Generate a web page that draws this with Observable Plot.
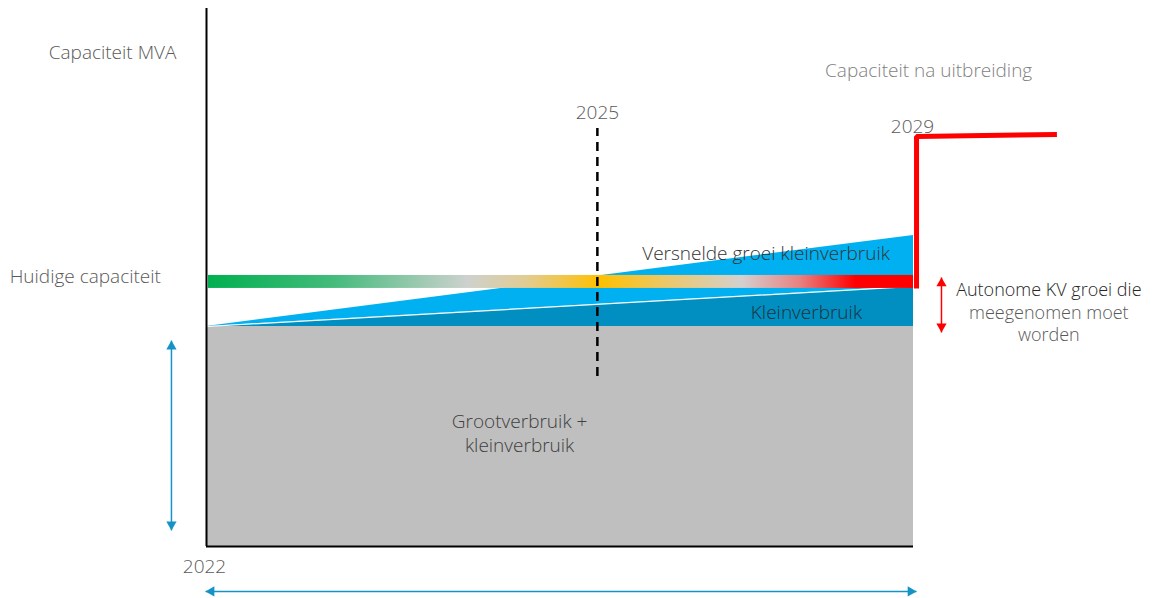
<!DOCTYPE html>
<html>
<head>
<meta charset="utf-8">
<script src="https://cdn.jsdelivr.net/npm/d3@7"></script>
<script src="https://cdn.jsdelivr.net/npm/@observablehq/plot@0.6"></script>
<style>
  html, body { margin: 0; padding: 0; background: #fff; }
  #chart svg { display: block; }
</style>
</head>
<body>
<div id="chart"></div>
<script>
// ---- data (schematic units: x = year, y = capacity MVA) ----
const years = [2022, 2029];
const baseLoad = [100, 100];          // Grootverbruik + kleinverbruik
const kleinTop = [100, 118.2];        // Kleinverbruik (autonome groei)
const versneldTop = [100, 141.4];     // Versnelde groei kleinverbruik
const currentCapacity = {x1: 2022.02, x2: 2029.0, y1: 117.3, y2: 123.2};
const expandedCapacity = [
  {x: 2029.03, y: 117.3},
  {x: 2029.03, y: 186.4},
  {x: 2030.42, y: 187.3}
];
const marker2025 = {x: 2025.87, y1: 77.3, y2: 190};
const axisTop = 244.5;

const labels = [
  {text: "Capaciteit MVA", x: 2021.07, y: 224.5, c: "#595959", s: 19},
  {text: "Huidige capaciteit", x: 2020.80, y: 122.7, c: "#595959", s: 19},
  {text: "2025", x: 2025.87, y: 197.3, c: "#595959", s: 19},
  {text: "2029", x: 2028.99, y: 190.9, c: "#595959", s: 19},
  {text: "Capaciteit na uitbreiding", x: 2029.15, y: 216.4, c: "#7f7f7f", s: 19},
  {text: "Versnelde groei kleinverbruik", x: 2027.54, y: 133.2, c: "#333333", s: 19},
  {text: "Kleinverbruik", x: 2027.94, y: 106.4, c: "#1f2f3a", s: 19},
  {text: "Grootverbruik +", x: 2025.10, y: 56.8, c: "#404040", s: 19},
  {text: "kleinverbruik", x: 2025.10, y: 45.5, c: "#404040", s: 19},
  {text: "2022", x: 2021.98, y: -9.1, c: "#595959", s: 19},
  {text: "Autonome KV groei die", x: 2030.34, y: 116.4, c: "#262626", s: 18},
  {text: "meegenomen moet", x: 2030.34, y: 105.9, c: "#595959", s: 18},
  {text: "worden", x: 2030.34, y: 95.9, c: "#595959", s: 18}
];

const arrows = [
  {x1: 2021.653, y1: 93.6, x2: 2021.653, y2: 7.3, c: "#1592c6"},
  {x1: 2021.99, y1: -20.45, x2: 2029.03, y2: -20.45, c: "#1592c6"},
  {x1: 2029.277, y1: 122.3, x2: 2029.277, y2: 97.3, c: "#ff0000"}
];

// ---- scales setup ----
const W = 1163, H = 598;
const xDomain = [2019.9604, 2031.4752];
const yDomain = [-23.636, 248.18];
const pxX = (xDomain[1] - xDomain[0]) / W;   // data units per pixel
const pxY = (yDomain[1] - yDomain[0]) / H;

// ---- derived tables ----
const areaData = years.map((x, i) => ({x, base: baseLoad[i], klein: kleinTop[i], versneld: versneldTop[i]}));
const headR = 3.8;
const tipOffset = 2 * Math.sqrt(Math.PI * headR * headR / (3 * Math.sqrt(3)));
const heads = arrows.flatMap(a => {
  const vertical = a.x1 === a.x2;
  if (vertical) {
    const s = Math.sign(a.y1 - a.y2); // +1 if y1 is top
    return [
      {x: a.x1, y: a.y1 - s * tipOffset * pxY, rot: s > 0 ? 0 : 180, c: a.c},
      {x: a.x2, y: a.y2 + s * tipOffset * pxY, rot: s > 0 ? 180 : 0, c: a.c}
    ];
  }
  return [
    {x: a.x1 + tipOffset * pxX, y: a.y1, rot: -90, c: a.c},
    {x: a.x2 - tipOffset * pxX, y: a.y2, rot: 90, c: a.c}
  ];
});

const plot = Plot.plot({
  width: W,
  height: H,
  margin: 0,
  x: {domain: xDomain, axis: null},
  y: {domain: yDomain, axis: null},
  style: {fontFamily: "'Open Sans', sans-serif", fontWeight: 300, background: "#fff"},
  marks: [
    Plot.areaY(areaData, {x: "x", y1: 0, y2: "base", fill: "#bfbfbf"}),
    Plot.areaY(areaData, {x: "x", y1: "klein", y2: "versneld", fill: "#00b0f0"}),
    Plot.areaY(areaData, {x: "x", y1: "base", y2: "klein", fill: "#008fc0"}),
    Plot.line(areaData, {x: "x", y: "klein", stroke: "#fff", strokeWidth: 1.2}),
    Plot.rect([currentCapacity], {x1: "x1", x2: "x2", y1: "y1", y2: "y2", fill: "url(#capGrad)"}),
    Plot.line(expandedCapacity, {x: "x", y: "y", stroke: "#ff0000", strokeWidth: 5, strokeLinejoin: "miter", strokeLinecap: "butt"}),
    Plot.ruleX([marker2025], {x: "x", y1: "y1", y2: "y2", stroke: "#000", strokeWidth: 2.5, strokeDasharray: "9,6"}),
    Plot.ruleX([2022], {y1: 0, y2: axisTop, stroke: "#000", strokeWidth: 2}),
    Plot.ruleY([0], {x1: 2022, x2: 2029, stroke: "#000", strokeWidth: 2}),
    Plot.link(arrows, {x1: "x1", y1: "y1", x2: "x2", y2: "y2", stroke: "c", strokeWidth: 1.5}),
    Plot.dot(heads, {x: "x", y: "y", symbol: "triangle", r: headR, fill: "c", stroke: null, rotate: "rot"}),
    Plot.text(labels, {x: "x", y: "y", text: "text", fill: "c", fontSize: "s", textAnchor: "middle"})
  ]
});

// gradient definition for current capacity bar
const ns = "http://www.w3.org/2000/svg";
const defs = document.createElementNS(ns, "defs");
const grad = document.createElementNS(ns, "linearGradient");
grad.setAttribute("id", "capGrad");
grad.setAttribute("x1", "0"); grad.setAttribute("x2", "1");
grad.setAttribute("y1", "0"); grad.setAttribute("y2", "0");
[[0, "#00b050"], [0.18, "#45bb7c"], [0.367, "#cdd1ce"], [0.45, "#e2cc94"], [0.556, "#ffc000"],
 [0.65, "#ecc86a"], [0.757, "#d4d0cf"], [0.84, "#e98080"], [0.918, "#ff0000"], [1, "#ff0000"]]
  .forEach(([o, c]) => {
    const s = document.createElementNS(ns, "stop");
    s.setAttribute("offset", o);
    s.setAttribute("stop-color", c);
    grad.appendChild(s);
  });
defs.appendChild(grad);
plot.insertBefore(defs, plot.firstChild);

document.getElementById("chart").appendChild(plot);
</script>
</body>
</html>
